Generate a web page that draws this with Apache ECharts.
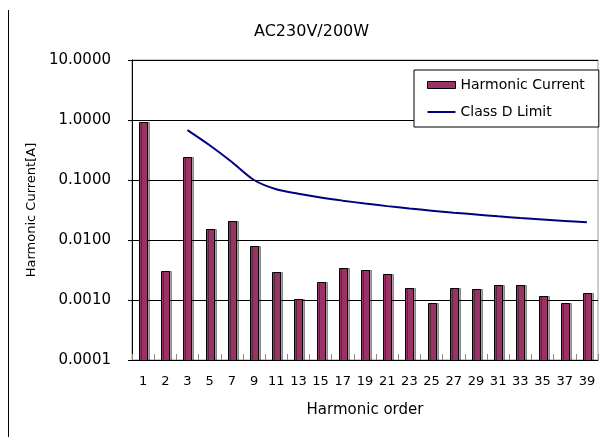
<!DOCTYPE html>
<html>
<head>
<meta charset="utf-8">
<script src="https://cdn.jsdelivr.net/npm/echarts@6/dist/echarts.min.js"></script>
<style>html,body{margin:0;padding:0;background:#fff}#c{width:606px;height:437px}</style>
</head>
<body>
<div id="c"></div>
<script>
var categories = ['1','2','3','5','7','9','11','13','15','17','19','21','23','25','27','29','31','33','35','37','39'];
var harmonicCurrent = [0.91, 0.0031, 0.239, 0.0155, 0.0205, 0.0078, 0.00296, 0.00103, 0.00197, 0.00346, 0.00312, 0.00268, 0.00161, 0.00090, 0.00161, 0.00151, 0.0018, 0.0018, 0.00118, 0.00090, 0.00129];
var classDLimit = [null, null, 0.68, 0.38, 0.2, 0.1, 0.07, 0.0592, 0.0513, 0.0453, 0.0405, 0.0367, 0.0335, 0.0308, 0.0285, 0.0266, 0.0248, 0.0233, 0.022, 0.0208, 0.0197];
var yMin = 0.0001, yMax = 10;
var yTickLabels = {'10': '10.0000', '1': '1.0000', '0.1': '0.1000', '0.01': '0.0100', '0.001': '0.0010', '0.0001': '0.0001'};

var font = 'DejaVu Sans, sans-serif';
var chart = echarts.init(document.getElementById('c'), null, {renderer: 'canvas'});
chart.setOption({
  animation: false,
  backgroundColor: '#fff',
  title: {
    text: 'AC230V/200W', left: 254, top: 24, padding: 0,
    textStyle: {fontFamily: font, fontSize: 16, fontWeight: 'normal', color: '#000'}
  },
  grid: {left: 132, right: 8, top: 60, bottom: 77, outerBoundsMode: 'none', containLabel: false,
    show: true, borderColor: '#999', borderWidth: 1, backgroundColor: 'transparent'},
  legend: {
    orient: 'vertical', left: 414, top: 70,
    backgroundColor: '#fff', borderColor: '#000', borderWidth: 1,
    padding: [8, 14, 8, 13], itemGap: 13, itemWidth: 28, itemHeight: 7,
    textStyle: {fontFamily: font, fontSize: 14, lineHeight: 14, color: '#000'},
    data: [
      {name: 'Harmonic Current', icon: 'rect', itemStyle: {color: '#993366', borderColor: '#000', borderWidth: 1}},
      {name: 'Class D Limit', icon: 'path://M0,0 L28,0 L28,2 L0,2 Z', itemStyle: {color: '#000080'}}
    ]
  },
  xAxis: {
    type: 'category', data: categories, boundaryGap: true,
    name: 'Harmonic order', nameLocation: 'middle', nameGap: 43,
    nameTextStyle: {fontFamily: font, fontSize: 15, color: '#000'},
    axisLine: {lineStyle: {color: '#000', width: 1}},
    axisTick: {show: true, inside: true, length: 6, interval: 0, lineStyle: {color: '#888'}},
    axisLabel: {interval: 0, margin: 15, fontFamily: font, fontSize: 13, color: '#000'}
  },
  yAxis: {
    type: 'log', logBase: 10, min: yMin, max: yMax,
    name: 'Harmonic Current[A]', nameLocation: 'middle', nameGap: 94,
    nameTextStyle: {fontFamily: font, fontSize: 13, color: '#000'},
    axisLine: {show: true, lineStyle: {color: '#000', width: 1}},
    axisTick: {show: true, inside: false, length: 4, lineStyle: {color: '#000'}},
    axisLabel: {
      margin: 21, fontFamily: font, fontSize: 15, color: '#000',
      formatter: function (v) { var k = String(+v.toPrecision(6)); return yTickLabels[k] || v.toFixed(4); }
    },
    splitLine: {show: true, lineStyle: {color: '#000', width: 1}}
  },
  graphic: [{
    type: 'line', shape: {x1: 8.5, y1: 10, x2: 8.5, y2: 437}, style: {stroke: '#000', lineWidth: 1}
  }],
  series: [{
    name: 'Harmonic Current', type: 'custom',
    data: harmonicCurrent.map(function (v, i) { return [i, v]; }),
    encode: {x: 0, y: 1},
    itemStyle: {color: '#993366'},
    renderItem: function (params, api) {
      var i = api.value(0), v = api.value(1);
      var top = api.coord([i, v]);
      var base = api.coord([i, yMin]);
      var w = 8;
      return {
        type: 'rect',
        shape: {x: Math.round(top[0] - w / 2) + 0.5, y: Math.round(top[1]) + 0.5, width: w, height: Math.round(base[1]) - Math.round(top[1])},
        style: {fill: '#993366', stroke: '#000', lineWidth: 1,
          shadowColor: 'rgba(0,0,0,0.35)', shadowOffsetX: 2, shadowOffsetY: 0, shadowBlur: 0}
      };
    }
  }, {
    name: 'Class D Limit', type: 'line', data: classDLimit, symbol: 'none', smooth: 0.3,
    connectNulls: false,
    lineStyle: {color: '#000080', width: 2}, itemStyle: {color: '#000080'}
  }]
});
</script>
</body>
</html>
